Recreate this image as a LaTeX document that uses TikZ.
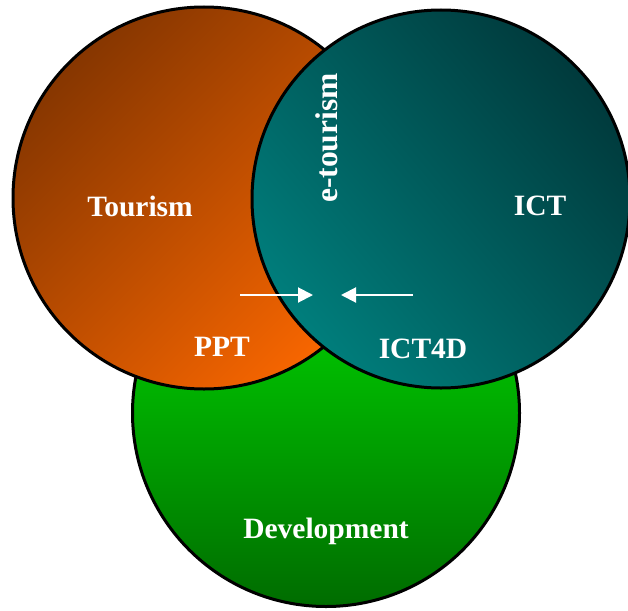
\documentclass[tikz,border=0pt]{standalone}
\usepackage{fontspec}
\setmainfont{Liberation Serif}
\usetikzlibrary{arrows.meta}
\definecolor{tourdark}{RGB}{134,54,0}
\definecolor{tourlight}{RGB}{248,102,0}
\definecolor{ictdark}{RGB}{0,58,60}
\definecolor{ictlight}{RGB}{0,126,124}
\definecolor{devlight}{RGB}{0,230,0}
\definecolor{devdark}{RGB}{0,108,0}
\tikzset{
	ring/.style={circle,draw=black,line width=3pt,inner sep=0pt,minimum size=#1},
	word/.style={text=white,font=\bfseries\fontsize{29.5}{34}\selectfont,inner sep=0pt},
	push/.style={draw=white,line width=2pt,-{Triangle[length=15pt,width=15pt]}}
}
\begin{document}
\begin{tikzpicture}[x=1pt,y=-1pt]
	\useasboundingbox (0,0) rectangle (628,610);
	\node [ring=387pt,top color=devlight,bottom color=devdark] (dev) at (326,413) {};
	\node [ring=382pt,top color=tourdark,bottom color=tourlight,shading angle=45] (tour) at (204,198) {};
	\node [ring=378pt,top color=ictdark,bottom color=ictlight,shading angle=-50] (ict) at (441,199) {};

	\node [word] (tourism) at (140,206) {Tourism};
	\node [word] (ictlbl) at (540,206) {ICT};
	\node [word,rotate=90,font=\bfseries\fontsize{31.5}{36}\selectfont] (etour) at (327,138) {e-tourism};
	\node [word] (ppt) at (222,347) {PPT};
	\node [word] (ict4d) at (423,349) {ICT4D};
	\node [word] (devlbl) at (326,531) {Development};

	\coordinate (la) at (240,295);
	\coordinate (lb) at (313,295);
	\coordinate (ra) at (413,295);
	\coordinate (rb) at (341,295);
	\draw [push] (la) -- (lb);
	\draw [push] (ra) -- (rb);
\end{tikzpicture}
\end{document}
